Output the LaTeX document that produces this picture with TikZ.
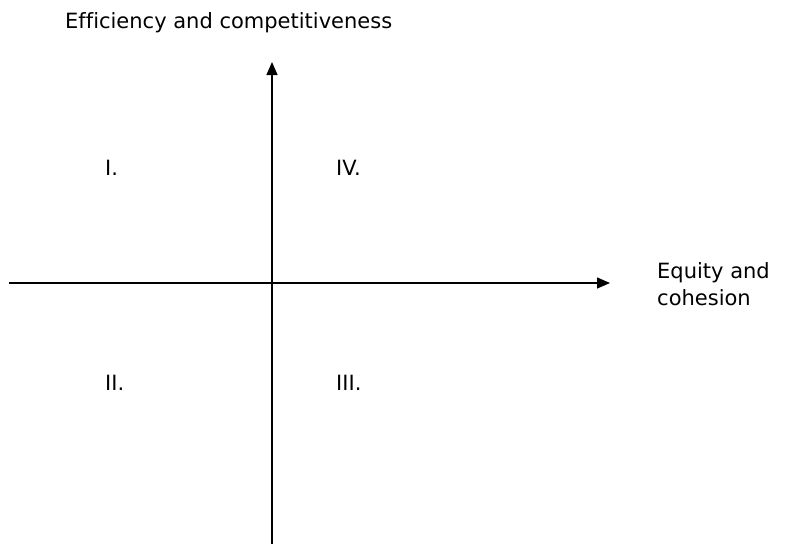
\documentclass[tikz,border=0pt]{standalone}
\usepackage{fontspec}
\setmainfont[Ligatures=CommonOff]{DejaVu Sans}
\usetikzlibrary{arrows.meta}

\begin{document}
\begin{tikzpicture}[
        x=1pt, y=-1pt,
        axis/.style={-{Triangle[length=13pt,width=11pt]},line width=1.2pt,black},
        label/.style={anchor=base west,inner sep=0pt,font=\fontsize{21}{27}\selectfont,align=left}
    ]
        \useasboundingbox (0,0) rectangle (801,544);
        % axes
        \coordinate (left) at (9,283);
        \coordinate (right) at (610,283);
        \coordinate (bottom) at (272,544);
        \coordinate (top) at (272,62);
        \draw[axis] (left) -- (right);
        \draw[axis] (bottom) -- (top);
        % axis titles
        \node[label] (eff) at (65,28) {Efficiency and competitiveness};
        \node[label,anchor=north west] (equ) at (657,262) {Equity and\\cohesion};
        % quadrants
        \node[label] (q1) at (105,175) {I.};
        \node[label] (q4) at (336,175) {IV.};
        \node[label] (q2) at (105,390) {II.};
        \node[label] (q3) at (336,390) {III.};
    \end{tikzpicture}
\end{document}
